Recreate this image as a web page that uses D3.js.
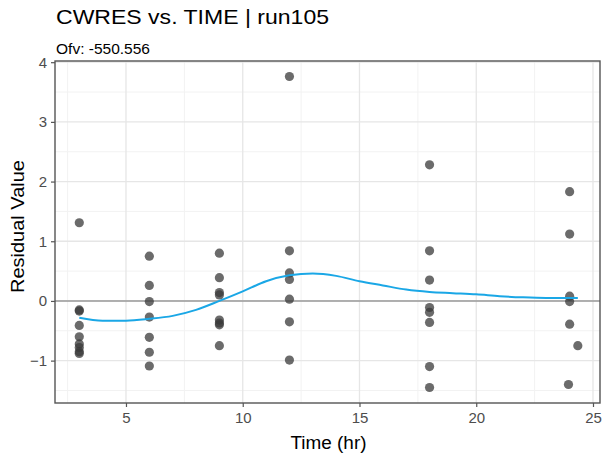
<!DOCTYPE html>
<html><head><meta charset="utf-8">
<script src="https://cdn.jsdelivr.net/npm/d3@7"></script>
<style>body{margin:0;background:#fff;font-family:"Liberation Sans",Arial,sans-serif;}</style>
</head><body><svg id="c" width="603" height="459"></svg>
<script>
const timeX = [3,3,3,3,3,3,3,3,3, 6,6,6,6,6,6,6, 9,9,9,9,9,9,9,9, 12,12,12,12,12,12,12, 18,18,18,18,18,18,18,18, 24,24,24,24,24,24.35,23.95];
const cwres = [1.31,-0.15,-0.17,-0.41,-0.60,-0.72,-0.78,-0.85,-0.88, 0.75,0.26,-0.01,-0.27,-0.61,-0.86,-1.09, 0.80,0.39,0.14,0.10,-0.32,-0.37,-0.40,-0.75, 3.76,0.84,0.47,0.36,0.03,-0.35,-0.99, 2.28,0.84,0.35,-0.11,-0.19,-0.36,-1.10,-1.45, 1.83,1.12,0.08,-0.01,-0.39,-0.75,-1.40];
const smoothX = [3,4,5,6,7,8,9,10,11,12,13,14,15,16,17,18,19,20,21,22,23,24,24.35];
const smoothY = [-0.28,-0.33,-0.33,-0.30,-0.25,-0.15,0.0,0.16,0.33,0.43,0.46,0.42,0.33,0.26,0.19,0.15,0.13,0.11,0.08,0.06,0.05,0.05,0.05];
const xTicks = [5,10,15,20,25];
const yTicks = [-1,0,1,2,3,4];
const xMinor = [2.5,7.5,12.5,17.5,22.5];
const yMinor = [-1.5,-0.5,0.5,1.5,2.5,3.5];

const svg = d3.select("#c");
const L = 55, R = 600, T = 61, B = 403;
const x = d3.scaleLinear().domain([1.96, 25.3]).range([L, R]);
const y = d3.scaleLinear().domain([-1.71, 4.02]).range([B, T]);
const FONT = "Liberation Sans, Arial, sans-serif";

// grid
const g = svg.append("g");
g.selectAll(".xm").data(xMinor).enter().append("line").attr("x1",d=>x(d)).attr("x2",d=>x(d)).attr("y1",T).attr("y2",B).attr("stroke","#f2f2f2").attr("stroke-width",1);
g.selectAll(".ym").data(yMinor).enter().append("line").attr("y1",d=>y(d)).attr("y2",d=>y(d)).attr("x1",L).attr("x2",R).attr("stroke","#f2f2f2").attr("stroke-width",1);
g.selectAll(".xM").data(xTicks).enter().append("line").attr("x1",d=>x(d)).attr("x2",d=>x(d)).attr("y1",T).attr("y2",B).attr("stroke","#e6e6e6").attr("stroke-width",1.3);
g.selectAll(".yM").data(yTicks).enter().append("line").attr("y1",d=>y(d)).attr("y2",d=>y(d)).attr("x1",L).attr("x2",R).attr("stroke","#e6e6e6").attr("stroke-width",1.3);

// zero line
svg.append("line").attr("x1",L).attr("x2",R).attr("y1",y(0)).attr("y2",y(0)).attr("stroke","#9a9a9a").attr("stroke-width",1.6);

// points
svg.append("g").selectAll("circle").data(cwres.map((v,i)=>[timeX[i],v])).enter().append("circle")
  .attr("cx",d=>x(d[0])).attr("cy",d=>y(d[1])).attr("r",4.6)
  .attr("fill","#3a3a3a").attr("fill-opacity",0.75);

// smooth
const line = d3.line().x(d=>x(d[0])).y(d=>y(d[1])).curve(d3.curveMonotoneX);
svg.append("path").datum(smoothX.map((v,i)=>[v,smoothY[i]])).attr("d",line)
  .attr("fill","none").attr("stroke","#1aa7e6").attr("stroke-width",2);

// border
svg.append("rect").attr("x",L).attr("y",T).attr("width",R-L).attr("height",B-T).attr("fill","none").attr("stroke","#555").attr("stroke-width",1.4);

// axes
const xa = svg.append("g").attr("transform",`translate(0,${B})`).call(d3.axisBottom(x).tickValues(xTicks).tickFormat(d3.format("d")).tickSize(4).tickPadding(5));
const ya = svg.append("g").attr("transform",`translate(${L},0)`).call(d3.axisLeft(y).tickValues(yTicks).tickFormat(d3.format("d")).tickSize(4).tickPadding(4));
[xa,ya].forEach(a=>{a.select(".domain").remove();a.selectAll("line").attr("stroke","#555").attr("stroke-width",1.2);a.selectAll("text").attr("fill","#4d4d4d").attr("font-size","15px").attr("font-family",FONT);});

svg.append("text").attr("x",56).attr("y",24).text("CWRES vs. TIME | run105").attr("font-size","21px").attr("font-family",FONT)
  .attr("textLength",273).attr("lengthAdjust","spacingAndGlyphs").attr("fill","#000");
svg.append("text").attr("x",56).attr("y",54).text("Ofv: -550.556").attr("font-size","15.5px").attr("font-family",FONT)
  .attr("textLength",94).attr("lengthAdjust","spacingAndGlyphs").attr("fill","#000");
svg.append("text").attr("x",328.5).attr("y",449).attr("text-anchor","middle").text("Time (hr)").attr("font-size","17.5px").attr("font-family",FONT)
  .attr("textLength",76).attr("lengthAdjust","spacingAndGlyphs").attr("fill","#000");
svg.append("text").attr("transform",`translate(24,226.5) rotate(-90)`).attr("text-anchor","middle").text("Residual Value").attr("font-size","17.5px").attr("font-family",FONT)
  .attr("textLength",133).attr("lengthAdjust","spacingAndGlyphs").attr("fill","#000");
</script></body></html>
